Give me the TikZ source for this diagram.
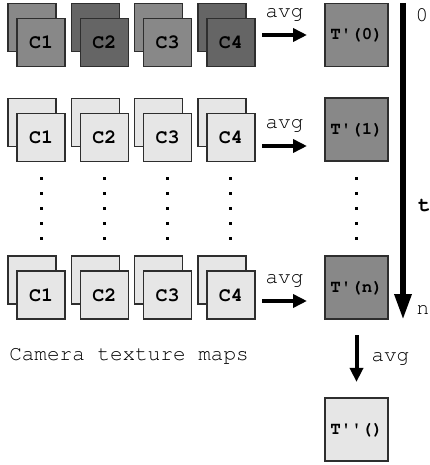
\documentclass[tikz,border=0pt]{standalone}
\usepackage[T1]{fontenc}
\usepackage{courier}
\usetikzlibrary{arrows.meta}

\definecolor{texmid}{HTML}{888888}
\definecolor{texdark}{HTML}{656565}
\definecolor{texlight}{HTML}{E6E6E6}
\definecolor{texedge}{HTML}{2E2E2E}

\newcommand{\tq}{\textquotesingle}

\begin{document}
\begin{tikzpicture}[x=1pt, y=-1pt,
    >={Triangle[length=14pt, width=13pt]},
    camtex/.style={draw=texedge, line width=1.2pt, minimum size=48pt, inner sep=0pt,
        font=\ttfamily\bfseries\fontsize{20}{20}\selectfont},
    avgtex/.style={draw=texedge, line width=1.2pt, minimum size=63pt, inner sep=0pt,
        font=\ttfamily\bfseries\fontsize{17.5}{17.5}\selectfont},
    lbl/.style={font=\ttfamily\fontsize{21}{21}\selectfont, inner sep=0pt},
    avgarrow/.style={->, line width=4pt}]
    \useasboundingbox (0,0) rectangle (430,465);

    % First frame - coloured camera maps
    \foreach \i/\fillc in {1/texmid, 2/texdark, 3/texmid, 4/texdark} {
        \pgfmathsetmacro{\cx}{41+63.3*(\i-1)}
        \node[camtex, fill=\fillc] (b\i-0) at (\cx-9, 27.5) {};
        \node[camtex, fill=\fillc] (c\i-0) at (\cx, 42.5) {C\i};
    }
    % Frames 1 and n - light camera maps
    \foreach \r/\cy in {1/137.5, n/295} {
        \foreach \i in {1,...,4} {
            \pgfmathsetmacro{\cx}{41+63.3*(\i-1)}
            \node[camtex, fill=texlight] (b\i-\r) at (\cx-9, \cy-15) {};
            \node[camtex, fill=texlight] (c\i-\r) at (\cx, \cy) {C\i};
        }
    }

    % Vertical dots
    \foreach \x in {41, 104.3, 167.6, 230.9, 356.5}
        \foreach \y in {178, 193, ..., 238}
            \fill (\x-1.5, \y-1.5) rectangle ++(3,3);

    % Averaged textures per frame
    \node[avgtex, fill=texmid] (t0) at (356.5, 35) {T\tq(0)};
    \node[avgtex, fill=texmid] (t1) at (356.5, 129.5) {T\tq(1)};
    \node[avgtex, fill=texmid] (tn) at (356.5, 287.5) {T\tq(n)};
    \node[avgtex, fill=texlight] (tpp) at (356.5, 429.5) {T\tq\tq()};

    % avg arrows
    \coordinate (in0) at (262, 35);   \coordinate (out0) at (307, 35);
    \coordinate (in1) at (262, 146);  \coordinate (out1) at (307, 146);
    \coordinate (inn) at (262, 301);  \coordinate (outn) at (307, 301);
    \foreach \r in {0, 1, n}
        \draw[avgarrow] (in\r) -- (out\r) node[lbl, midway, above=12pt] (avg\r) {avg};

    % Time axis
    \coordinate (tstart) at (403, 3);
    \coordinate (tend) at (403, 320);
    \draw[line width=6pt, -{Triangle[length=26pt, width=16pt]}] (tstart) -- (tend);
    \node[lbl] (tzero) at (422, 15) {0};
    \node[lbl, font=\ttfamily\bfseries\fontsize{21}{21}\selectfont] (tlab) at (424.5, 205.5) {t};
    \node[lbl] (tlast) at (423, 310) {n};

    % Final average
    \draw[avgarrow, shorten <=15.5pt, shorten >=15.5pt] (tn.south) -- (tpp.north)
        node[lbl, midway, right=13pt] (avgall) {avg};

    \node[lbl] (caption) at (129, 356) {Camera texture maps};
\end{tikzpicture}
\end{document}
